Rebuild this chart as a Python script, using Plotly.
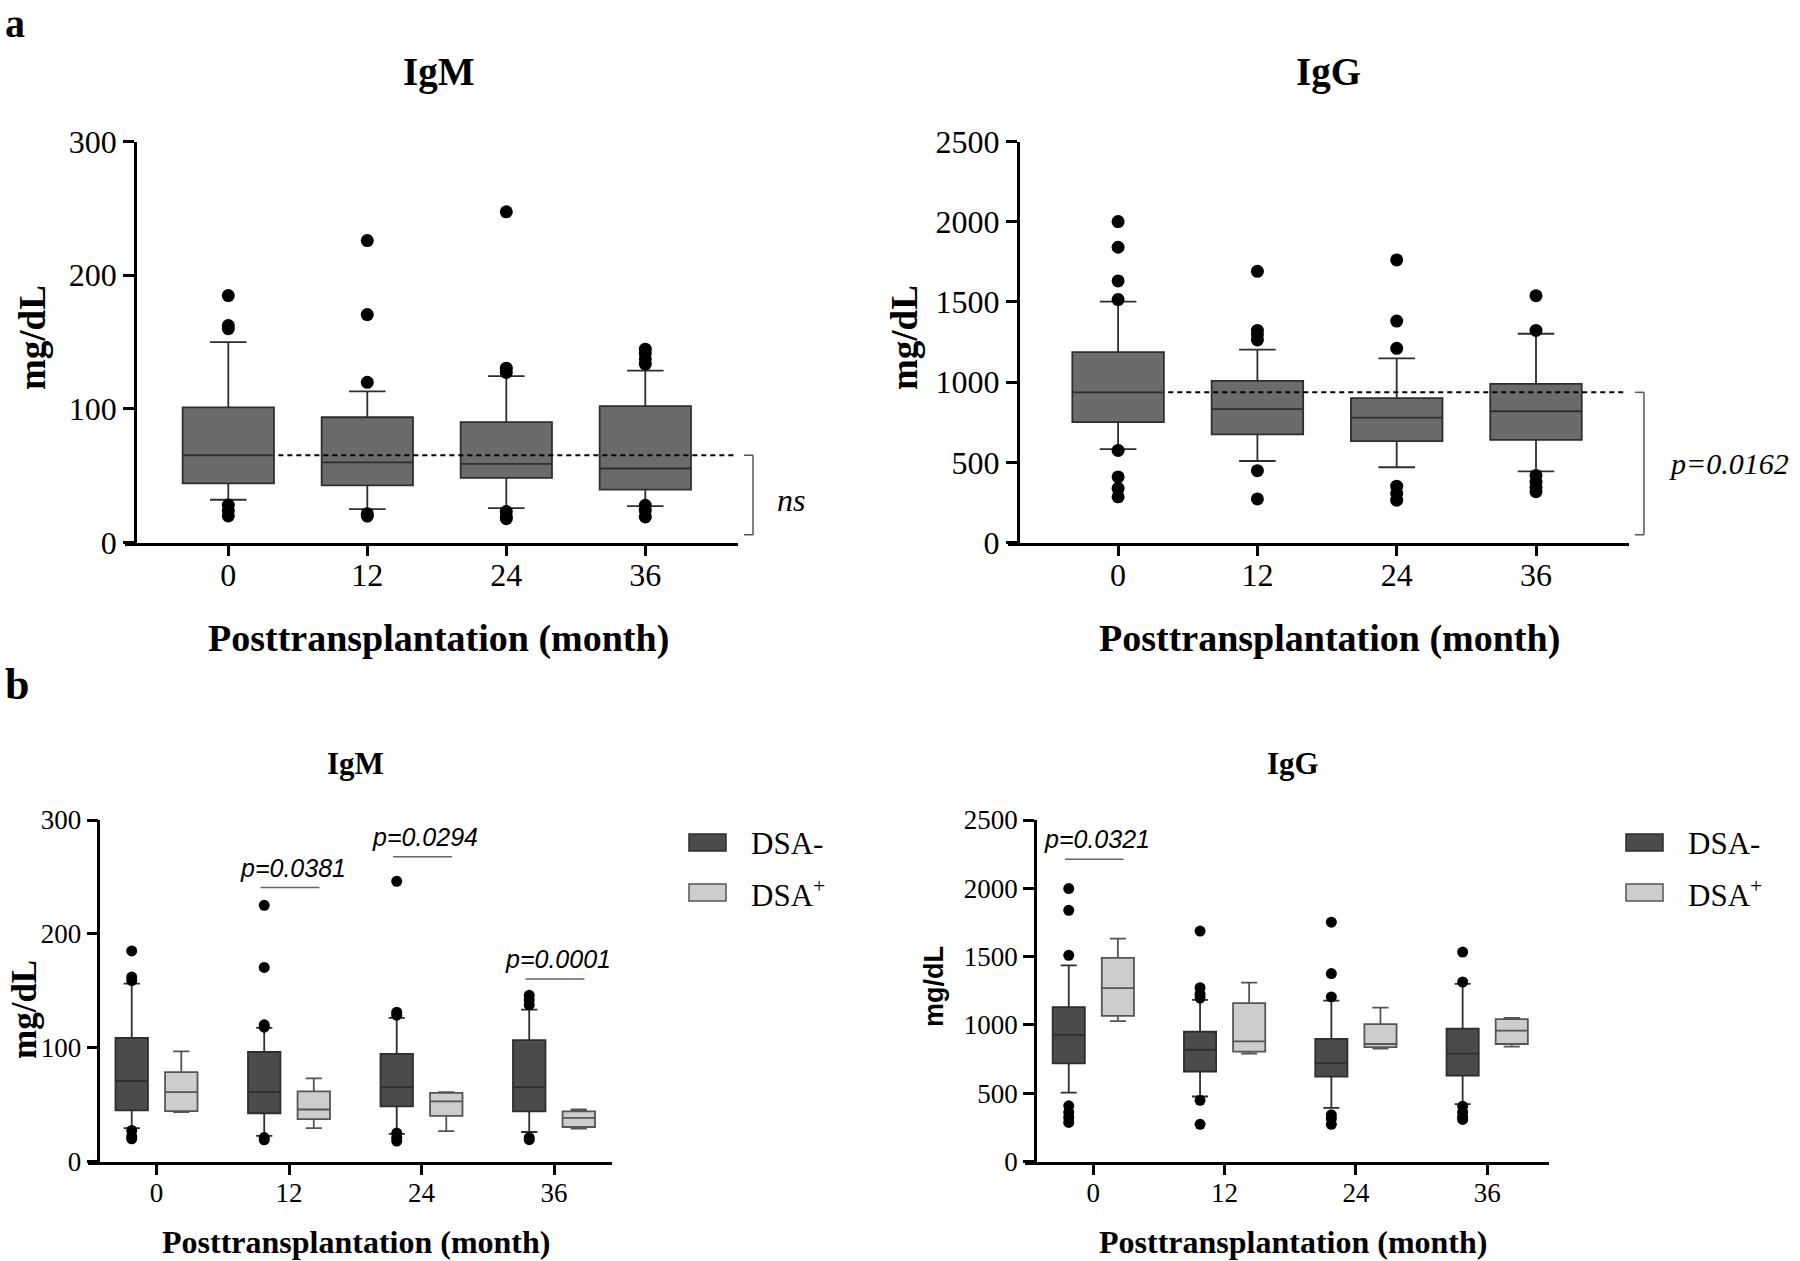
import plotly.graph_objects as go

# ---------------- data ----------------
MONTHS = ["0", "12", "24", "36"]
CATS = [0, 1, 2, 3]

# Panel a - IgM
IGM_A_Q1 = [44.3, 42.8, 48.5, 39.7]
IGM_A_MED = [65.4, 60.0, 58.9, 55.5]
IGM_A_Q3 = [101.2, 93.8, 90.1, 102.1]
IGM_A_LO = [32.1, 25.1, 25.8, 27.4]
IGM_A_HI = [150.0, 113.2, 124.5, 128.6]
IGM_A_OUT = [
    [184.8, 162.4, 160.0, 28.1, 24.0, 20.0],
    [225.9, 170.6, 119.9, 21.7, 19.9],
    [247.4, 130.5, 127.3, 23.3, 19.5, 18.0],
    [144.7, 141.5, 137.4, 133.6, 28.0, 24.0, 19.2],
]

# Panel a - IgG
IGG_A_Q1 = [751, 675, 633, 641]
IGG_A_MED = [937, 832, 780, 819]
IGG_A_Q3 = [1187, 1008, 901, 990]
IGG_A_LO = [583, 509, 470, 444]
IGG_A_HI = [1502, 1203, 1148, 1302]
IGG_A_OUT = [
    [2001, 1841, 1631, 1515, 575, 410, 339, 286],
    [1691, 1323, 1297, 1263, 449, 273],
    [1762, 1381, 1211, 352, 307, 265],
    [1539, 1323, 418, 378, 344, 318],
]

# Panel b - IgM, DSA- / DSA+
IGM_B_NEG_Q1 = [44.9, 42.4, 48.4, 44.1]
IGM_B_NEG_MED = [70.7, 60.9, 65.3, 65.3]
IGM_B_NEG_Q3 = [108.5, 96.2, 94.5, 106.6]
IGM_B_NEG_LO = [29.3, 22.5, 24.2, 25.9]
IGM_B_NEG_HI = [156.3, 117.4, 126.1, 133.5]
IGM_B_NEG_OUT = [
    [185.0, 162.0, 159.0, 27.3, 22.0, 19.9],
    [225.0, 170.5, 120.1, 118.0, 21.0, 19.0],
    [246.2, 131.2, 128.5, 25.0, 21.0, 18.0],
    [146.0, 141.9, 137.6, 20.9, 19.2],
]
IGM_B_POS_Q1 = [44.3, 37.3, 40.0, 30.3]
IGM_B_POS_MED = [61.0, 45.7, 52.8, 38.3]
IGM_B_POS_Q3 = [78.6, 61.6, 60.2, 44.1]
IGM_B_POS_LO = [43.4, 29.3, 26.6, 28.9]
IGM_B_POS_HI = [96.8, 73.0, 60.9, 45.7]

# Panel b - IgG, DSA- / DSA+
IGG_B_NEG_Q1 = [719, 659, 622, 628]
IGG_B_NEG_MED = [927, 818, 720, 790]
IGG_B_NEG_Q3 = [1130, 950, 897, 973]
IGG_B_NEG_LO = [504, 476, 392, 420]
IGG_B_NEG_HI = [1436, 1183, 1177, 1300]
IGG_B_NEG_OUT = [
    [1998, 1839, 1509, 408, 359, 323, 286],
    [1687, 1272, 1225, 1197, 448, 272],
    [1752, 1376, 1205, 342, 314, 272],
    [1533, 1314, 404, 361, 328, 308],
]
IGG_B_POS_Q1 = [1066, 804, 838, 860]
IGG_B_POS_MED = [1269, 880, 860, 958]
IGG_B_POS_Q3 = [1490, 1160, 1006, 1043]
IGG_B_POS_LO = [1027, 790, 827, 841]
IGG_B_POS_HI = [1631, 1309, 1127, 1051]

# significance labels
P_IGM_B_LABELS = ["p=0.0381", "p=0.0294", "p=0.0001"]
P_IGM_B_CATS = [1, 2, 3]
P_IGM_B_LINE_Y = [240.8, 267.7, 160.4]
P_IGG_B_LABELS = ["p=0.0321"]
P_IGG_B_CATS = [0]
P_IGG_B_LINE_Y = [2213]

# ---------------- style / layout ----------------
W, H = 1800, 1261
SERIF = "Liberation Serif, Times New Roman, serif"
SANS = "Liberation Sans, Arial, sans-serif"

A_FILL = "#6b6b6b"
NEG_FILL = "#4b4b4b"
POS_FILL = "#cdcdcd"
EDGE = "#2e2e2e"
POS_EDGE = "#555555"


def px(x):
    return x / W


def py(y):
    return 1 - y / H


# pixel geometry of each panel
PANELS = {
    "1": dict(yax=135.0, xstart=125.0, cat0=228.3, sp=139.0, r1=3.67, top=141.5, bot=542.7,
              ymax=300, dtick=100, tfs=32, xstand=-8),
    "2": dict(yax=1017.7, xstart=1007.7, cat0=1118.1, sp=139.3, r1=3.67, top=141.5, bot=542.7,
              ymax=2500, dtick=500, tfs=32, xstand=-8),
    "3": dict(yax=98.3, xstart=88.3, cat0=156.5, sp=132.5, r1=3.44, top=820.0, bot=1161.5,
              ymax=300, dtick=100, tfs=27, xstand=-5),
    "4": dict(yax=1035.0, xstart=1025.0, cat0=1093.3, sp=131.3, r1=3.47, top=820.0, bot=1161.5,
              ymax=2500, dtick=500, tfs=27, xstand=-5),
}

fig = go.Figure()
layout = dict(width=W, height=H, margin=dict(l=0, r=0, t=0, b=0, pad=0, autoexpand=False),
              paper_bgcolor="white", plot_bgcolor="white", showlegend=False)

for k, p in PANELS.items():
    r0 = (p["xstart"] - p["cat0"]) / p["sp"]
    right = p["cat0"] + p["r1"] * p["sp"]
    p["r0"] = r0
    xs = "" if k == "1" else k
    layout["xaxis" + xs] = dict(
        domain=[px(p["xstart"]), px(right)], range=[r0, p["r1"]], anchor="y" + xs,
        tickvals=CATS, ticktext=MONTHS, showline=True, linewidth=3, linecolor="black",
        ticks="outside", ticklen=10, tickwidth=2.5, tickcolor="black", showgrid=False,
        zeroline=False, tickfont=dict(family=SERIF, size=p["tfs"], color="black"),
        ticklabelstandoff=p["xstand"], automargin=False, fixedrange=True)
    layout["yaxis" + xs] = dict(
        domain=[py(p["bot"]), py(p["top"])], range=[0, p["ymax"]], anchor="free",
        position=px(p["yax"]), tickmode="linear", tick0=0, dtick=p["dtick"],
        showline=True, linewidth=2.5, linecolor="black", ticks="outside", ticklen=11,
        tickwidth=2.5, tickcolor="black", showgrid=False, zeroline=False,
        tickfont=dict(family=SERIF, size=p["tfs"], color="black"), ticklabelstandoff=0,
        automargin=False, fixedrange=True)


def add_boxes(xs, offset, width, q1, med, q3, lo, hi, fill, edge, ww, name):
    fig.add_trace(go.Box(
        x=[c + offset for c in CATS], q1=q1, median=med, q3=q3, lowerfence=lo, upperfence=hi,
        width=width, whiskerwidth=ww, fillcolor=fill, line=dict(color=edge, width=1.8),
        boxpoints=False, name=name, xaxis="x" + xs, yaxis="y" + xs, hoverinfo="skip"))


def add_outliers(xs, offset, outs, size):
    ox, oy = [], []
    for c, vals in zip(CATS, outs):
        for v in vals:
            ox.append(c + offset)
            oy.append(v)
    fig.add_trace(go.Scatter(x=ox, y=oy, mode="markers", cliponaxis=False,
                             marker=dict(color="black", size=size), xaxis="x" + xs,
                             yaxis="y" + xs, hoverinfo="skip"))


# panel a
add_boxes("", 0, 0.657, IGM_A_Q1, IGM_A_MED, IGM_A_Q3, IGM_A_LO, IGM_A_HI, A_FILL, EDGE, 0.4, "IgM")
add_outliers("", 0, IGM_A_OUT, 13)
add_boxes("2", 0, 0.657, IGG_A_Q1, IGG_A_MED, IGG_A_Q3, IGG_A_LO, IGG_A_HI, A_FILL, EDGE, 0.4, "IgG")
add_outliers("2", 0, IGG_A_OUT, 13)

# panel b
OFF = 0.187
BW = 0.245
add_boxes("3", -OFF, BW, IGM_B_NEG_Q1, IGM_B_NEG_MED, IGM_B_NEG_Q3, IGM_B_NEG_LO, IGM_B_NEG_HI,
          NEG_FILL, EDGE, 0.5, "DSA-")
add_boxes("3", OFF, BW, IGM_B_POS_Q1, IGM_B_POS_MED, IGM_B_POS_Q3, IGM_B_POS_LO, IGM_B_POS_HI,
          POS_FILL, POS_EDGE, 0.5, "DSA+")
add_outliers("3", -OFF, IGM_B_NEG_OUT, 11)
add_boxes("4", -OFF, BW, IGG_B_NEG_Q1, IGG_B_NEG_MED, IGG_B_NEG_Q3, IGG_B_NEG_LO, IGG_B_NEG_HI,
          NEG_FILL, EDGE, 0.5, "DSA-")
add_boxes("4", OFF, BW, IGG_B_POS_Q1, IGG_B_POS_MED, IGG_B_POS_Q3, IGG_B_POS_LO, IGG_B_POS_HI,
          POS_FILL, POS_EDGE, 0.5, "DSA+")
add_outliers("4", -OFF, IGG_B_NEG_OUT, 11)

shapes = []
annotations = []


def dom(k, xval):
    p = PANELS[k]
    return (xval - p["r0"]) / (p["r1"] - p["r0"])


# dashed reference line (month-0 median) + bracket, panel a
for k, xs, med0, ymax, lbl, lx, ly, fs in [("1", "", IGM_A_MED[0], 300, "ns", 791, 500, 32),
                                           ("2", "2", IGG_A_MED[0], 2500, "p=0.0162", 1729, 463, 30)]:
    shapes.append(dict(type="line", xref="x" + xs, yref="y" + xs, x0=0.36, x1=3.64, y0=med0, y1=med0,
                       line=dict(color="black", width=2, dash="5px,4px")))
    xb = dom(k, 3.775)
    xt = dom(k, 3.71)
    yb = ymax * 0.02
    for (a0, a1, b0, b1) in [(xb, xb, med0, yb), (xt, xb, med0, med0), (xt, xb, yb, yb)]:
        shapes.append(dict(type="line", xref="x%s domain" % xs, yref="y" + xs, x0=a0, x1=a1,
                           y0=b0, y1=b1, line=dict(color="#555555", width=1.5)))
    annotations.append(dict(text=lbl, x=px(lx), y=py(ly), xref="paper", yref="paper",
                            showarrow=False, xanchor="center", yanchor="middle",
                            font=dict(family=SERIF, size=fs, color="black", style="italic")))

# significance lines + labels, panel b
for xs, labels, cats, ys, ymax in [("3", P_IGM_B_LABELS, P_IGM_B_CATS, P_IGM_B_LINE_Y, 300),
                                   ("4", P_IGG_B_LABELS, P_IGG_B_CATS, P_IGG_B_LINE_Y, 2500)]:
    for lab, c, yv in zip(labels, cats, ys):
        shapes.append(dict(type="line", xref="x" + xs, yref="y" + xs, x0=c - 0.215, x1=c + 0.23,
                           y0=yv, y1=yv, line=dict(color="#666666", width=1.5)))
        annotations.append(dict(text=lab, x=c + 0.03, y=yv + ymax * 0.058, xref="x" + xs,
                                yref="y" + xs, showarrow=False, xanchor="center", yanchor="middle",
                                font=dict(family=SANS, size=25, color="black", style="italic")))

# legends (panel b)
for x0 in [689, 1626]:
    for (y0, fill, edge, txt) in [(834, NEG_FILL, EDGE, "DSA-"), (884, POS_FILL, POS_EDGE, "DSA<sup>+</sup>")]:
        shapes.append(dict(type="rect", xref="paper", yref="paper", x0=px(x0), x1=px(x0 + 37),
                           y0=py(y0 + 17), y1=py(y0), fillcolor=fill, line=dict(color=edge, width=1.5)))
        annotations.append(dict(text=txt, x=px(x0 + 60), y=py(y0 + 9), xref="paper", yref="paper",
                                showarrow=False, xanchor="left", yanchor="middle",
                                font=dict(family=SERIF, size=31, color="black")))


# titles, axis titles, panel letters
def txt(t, x, y, size, fam=SERIF, bold=True, angle=0):
    annotations.append(dict(text=t, x=px(x), y=py(y), xref="paper", yref="paper", showarrow=False,
                            xanchor="center", yanchor="middle", textangle=angle,
                            font=dict(family=fam, size=size, color="black",
                                      weight="bold" if bold else "normal")))


txt("a", 15, 23, 40)
txt("b", 17, 684, 44)
txt("IgM", 439, 72, 39)
txt("IgG", 1328, 72, 39)
txt("IgM", 355, 763, 31)
txt("IgG", 1293, 763, 31)
txt("Posttransplantation (month)", 438, 638, 38)
txt("Posttransplantation (month)", 1329, 638, 38)
txt("Posttransplantation (month)", 356, 1242, 32)
txt("Posttransplantation (month)", 1293, 1242, 32)
txt("mg/dL", 33, 338, 37, angle=-90)
txt("mg/dL", 905, 338, 37, angle=-90)
txt("mg/dL", 24, 1010, 35, angle=-90)
txt("mg/dL", 934, 986, 27, fam=SANS, angle=-90)

layout["shapes"] = shapes
layout["annotations"] = annotations
fig.update_layout(**layout)
fig.write_html("out.html", config={"displayModeBar": False})

# remove default page margin so the figure sits at the window origin
with open("out.html", "r", encoding="utf-8") as f:
    html = f.read()
html = html.replace("<head>", "<head><style>html,body{margin:0;padding:0;overflow:hidden;}</style>", 1)
with open("out.html", "w", encoding="utf-8") as f:
    f.write(html)
